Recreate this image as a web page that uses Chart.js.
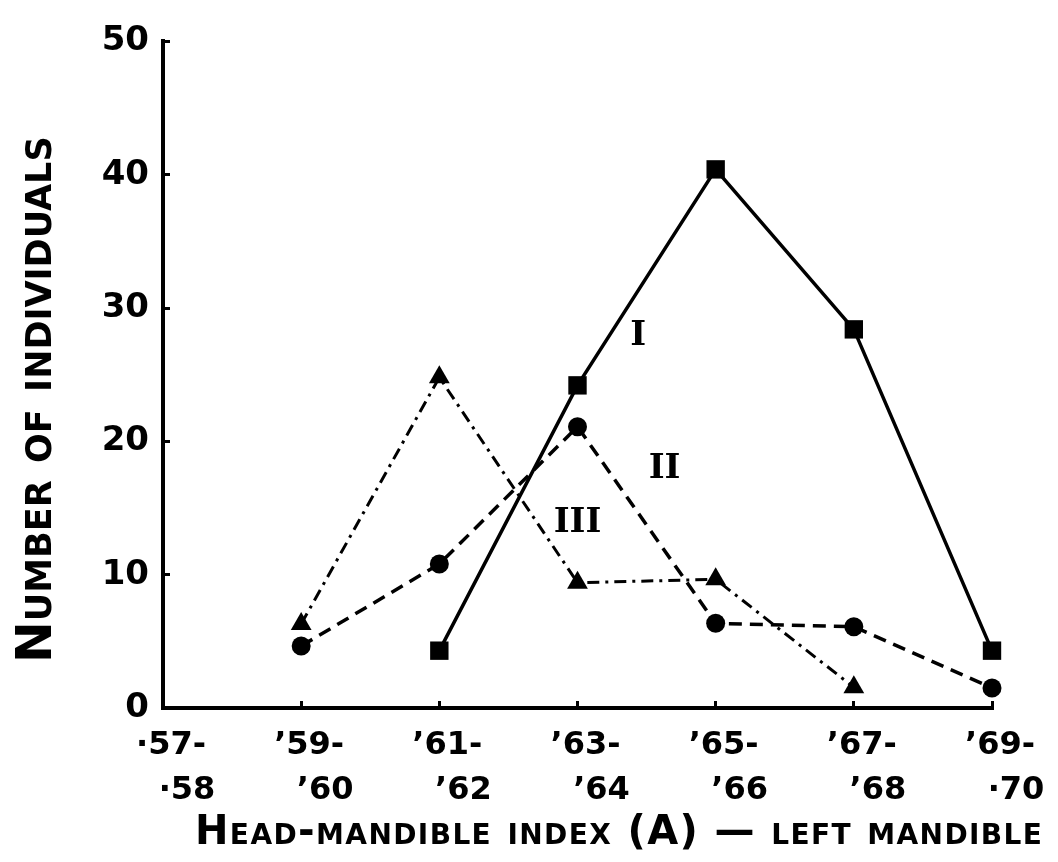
<!DOCTYPE html>
<html>
<head>
<meta charset="utf-8">
<script src="https://cdn.jsdelivr.net/npm/chart.js@4.4.1/dist/chart.umd.min.js"></script>
<style>
  html, body { margin: 0; padding: 0; background: #fff; }
  #wrap { width: 1058px; height: 862px; }
</style>
</head>
<body>
<div id="wrap"><canvas id="indexChart" width="1058" height="862"></canvas></div>
<script>
// index ranges, split over two lines as on the original axis
const rangeStart = ['·57-', '’59-', '’61-', '’63-', '’65-', '’67-', '’69-'];
const rangeEnd = ['·58', '’60', '’62', '’64', '’66', '’68', '·70'];

// number of individuals per range
const casteI = [null, null, 4.3, 24.2, 40.4, 28.4, 4.3];
const casteII = [null, 4.65, 10.8, 21.1, 6.35, 6.1, 1.5];
const casteIII = [null, 6.3, 24.8, 9.4, 9.65, 1.55, null];

const yTicks = [0, 10, 20, 30, 40, 50];
const seriesNames = ['I', 'II', 'III'];
const xTitle = 'Head-mandible index (A) \u2014 left mandible';
const yTitle = 'Number of individuals';

const INK = '#000';
const FONT = 'DejaVu Sans';

// roman numerals written next to each curve
const curveLabels = {
  id: 'curveLabels',
  afterDatasetsDraw(chart, args, opts) {
    const { ctx, scales: { x, y } } = chart;
    ctx.save();
    ctx.fillStyle = INK;
    ctx.font = 'bold 34px "DejaVu Serif"';
    ctx.textAlign = 'center';
    ctx.textBaseline = 'middle';
    opts.items.forEach(item => {
      ctx.fillText(item.text, x.getPixelForValue(item.at[0]), y.getPixelForValue(item.at[1]));
    });
    ctx.restore();
  }
};

// x caption runs wider than the axis on the original, so it is drawn here
// instead of as a scale title (those get squeezed to the axis width)
const xCaption = {
  id: 'xCaption',
  afterDraw(chart, args, opts) {
    const { ctx, chartArea } = chart;
    const x0 = chartArea.left + opts.inset;
    const span = chart.width - opts.rightGap - x0;
    ctx.save();
    ctx.fillStyle = INK;
    ctx.font = `small-caps bold ${opts.size}px "${FONT}"`;
    ctx.textAlign = 'left';
    ctx.textBaseline = 'middle';
    const w = ctx.measureText(opts.text).width;
    if ('letterSpacing' in ctx && span > w) {
      ctx.letterSpacing = ((span - w) / (opts.text.length - 1)).toFixed(2) + 'px';
    }
    ctx.fillText(opts.text, x0, chart.height - opts.fromBottom);
    ctx.restore();
  }
};

const ctx = document.getElementById('indexChart').getContext('2d');

new Chart(ctx, {
  type: 'line',
  data: {
    labels: rangeStart.map((s, i) => [s, rangeEnd[i]]),
    datasets: [
      {
        label: seriesNames[0],
        data: casteI,
        borderColor: INK,
        backgroundColor: INK,
        borderWidth: 3.5,
        pointStyle: 'rect',
        pointRadius: 13,
        pointBorderWidth: 0
      },
      {
        label: seriesNames[1],
        data: casteII,
        borderColor: INK,
        backgroundColor: INK,
        borderWidth: 3.5,
        borderDash: [13, 8],
        pointStyle: 'circle',
        pointRadius: 9.5,
        pointBorderWidth: 0
      },
      {
        label: seriesNames[2],
        data: casteIII,
        borderColor: INK,
        backgroundColor: INK,
        borderWidth: 3,
        borderDash: [12, 6, 3, 6],
        pointStyle: 'triangle',
        pointRadius: 12,
        pointBorderWidth: 0
      }
    ]
  },
  options: {
    responsive: false,
    animation: false,
    devicePixelRatio: 1,
    clip: false,
    layout: {
      padding: { top: 30, right: 66, bottom: 0, left: 0 }
    },
    plugins: {
      legend: { display: false },
      tooltip: { enabled: false },
      curveLabels: {
        items: [
          { text: 'I', at: [3.44, 27.9] },
          { text: 'II', at: [3.63, 17.9] },
          { text: 'III', at: [3.0, 13.9] }
        ]
      },
      xCaption: { text: xTitle, size: 40, inset: 32, rightGap: 16, fromBottom: 28 }
    },
    scales: {
      x: {
        border: { display: true, color: INK, width: 4 },
        grid: { drawOnChartArea: false, color: INK, lineWidth: 3, tickLength: -7 },
        ticks: {
          color: INK,
          padding: 22,
          maxRotation: 0,
          autoSkip: false,
          font: { family: FONT, weight: 'bold', size: 32, lineHeight: 1.42 },
          // both lines sit a little to the right of the tick on the original
          callback: (v, i) => ['\u2002' + rangeStart[i], '\u2002\u2002\u2002' + rangeEnd[i]]
        },
        afterFit: scale => {
          scale.height = 154;
          // labels may hang past the plot edge; keep the plot where it is
          scale.paddingLeft = 0;
          scale.paddingRight = 0;
        }
      },
      y: {
        min: 0,
        max: 50,
        border: { display: true, color: INK, width: 4 },
        grid: { drawOnChartArea: false, color: INK, lineWidth: 3, tickLength: -7 },
        afterBuildTicks: scale => { scale.ticks = yTicks.map(v => ({ value: v })); },
        ticks: {
          color: INK,
          padding: 21,
          font: { family: FONT, weight: 'bold', size: 34 }
        },
        title: {
          display: true,
          text: yTitle + '\u2003',
          color: INK,
          padding: { top: 8, bottom: 0 },
          font: { family: FONT, weight: 'small-caps bold', size: 50, lineHeight: 1.2 }
        },
        afterFit: scale => { scale.width = 163; }
      }
    }
  },
  plugins: [curveLabels, xCaption]
});
</script>
</body>
</html>
